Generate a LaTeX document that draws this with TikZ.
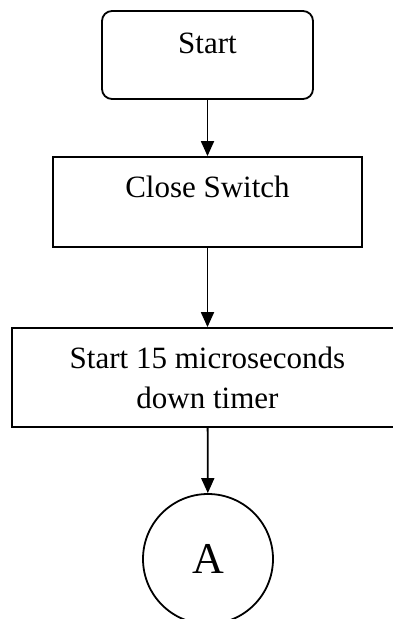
\documentclass[tikz,border=0pt]{standalone}
\usepackage{fontspec}
\setmainfont{Liberation Serif}
\usetikzlibrary{positioning, arrows.meta}

\begin{document}
\begin{tikzpicture}[x=1pt,y=-1pt,line width=1.8pt,>={Triangle[length=15pt,width=13pt]}]
	\useasboundingbox (0,0) rectangle (393,619);
	\clip (0,0) rectangle (393,619);
	\node (start) at (207.5,55) [draw,rounded corners=10pt,inner sep=0pt,minimum width=211pt,text height=42pt,text depth=46pt,font=\fontsize{31}{40}\selectfont] {Start};
	\node (close) at (207.5,202) [draw,inner sep=0pt,minimum width=309pt,text height=40pt,text depth=50pt,font=\fontsize{31}{40}\selectfont] {Close Switch};
	\node (timer) at (207.5,377.5) [draw,inner sep=0pt,minimum width=391pt,text height=80pt,text depth=19pt,align=center,font=\fontsize{31}{40}\selectfont] {Start 15 microseconds\\down timer};

	\node (A) at (208,559) [draw,circle,inner sep=0pt,minimum size=130pt,font=\fontsize{44}{50}\selectfont] {A};

	\path[->] (start) edge (close);
	\path[->] (close) edge (timer);
	\path[->] (timer) edge (A);
\end{tikzpicture}
\end{document}
